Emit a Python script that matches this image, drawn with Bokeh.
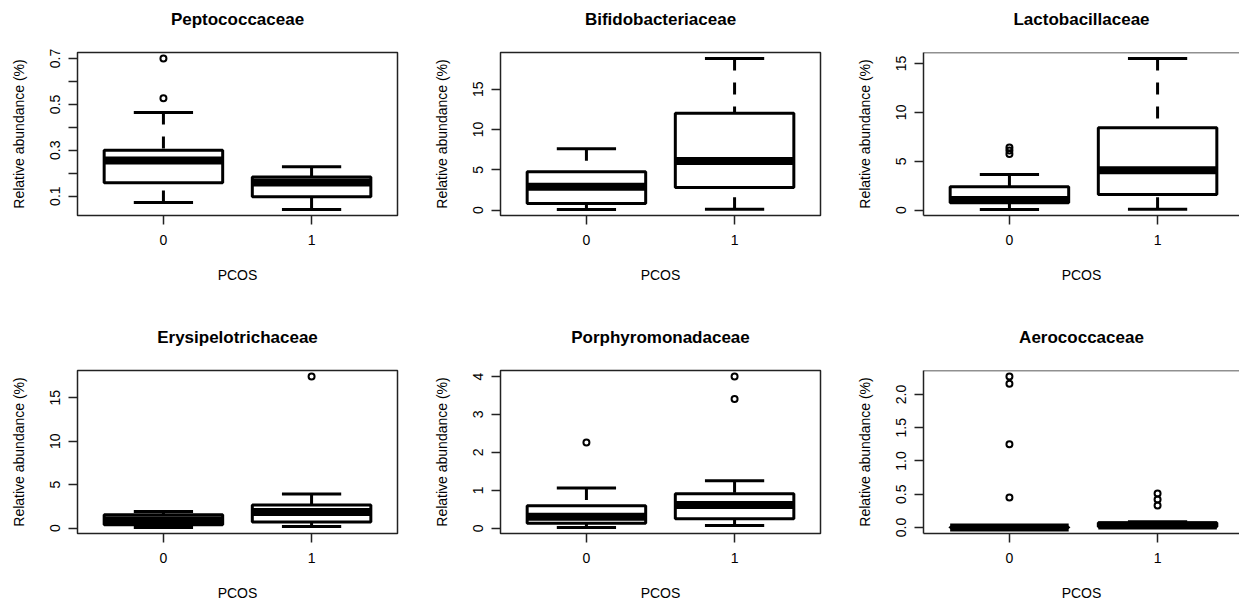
from bokeh.plotting import figure
from bokeh.layouts import column, row
from bokeh.models import Range1d, FixedTicker, Span
from bokeh.embed import file_html
from bokeh.resources import INLINE

# ---------------- data ----------------
families = ["Peptococcaceae", "Bifidobacteriaceae", "Lactobacillaceae",
            "Erysipelotrichaceae", "Porphyromonadaceae", "Aerococcaceae"]
groups = ["0", "1"]          # PCOS status, drawn at box positions 1 and 2

low_whisker = [[0.072, 0.042], [0.08, 0.10], [0.07, 0.10],
               [0.07, 0.18], [0.02, 0.07], [0.0, 0.0]]
q1 = [[0.158, 0.097], [0.83, 2.8], [0.75, 1.6],
      [0.38, 0.69], [0.13, 0.25], [0.0, 0.01]]
median = [[0.256, 0.160], [2.9, 6.1], [1.05, 4.09],
          [0.9, 1.85], [0.30, 0.61], [0.0, 0.03]]
q3 = [[0.30, 0.184], [4.75, 12.0], [2.38, 8.42],
      [1.52, 2.67], [0.59, 0.91], [0.005, 0.07]]
high_whisker = [[0.465, 0.228], [7.6, 18.8], [3.65, 15.5],
                [1.9, 3.93], [1.06, 1.25], [0.01, 0.085]]
outliers = [[[0.527, 0.70], []],
            [[], []],
            [[6.4, 6.1, 5.75], []],
            [[], [17.45]],
            [[2.26], [3.41, 4.0]],
            [[0.45, 1.25, 2.16, 2.27], [0.33, 0.42, 0.51]]]

y_ticks = [[0.1, 0.3, 0.5, 0.7], [0, 5, 10, 15], [0, 5, 10, 15],
           [0, 5, 10, 15], [0, 1, 2, 3, 4], [0.0, 0.5, 1.0, 1.5, 2.0]]
y_tick_labels = [["0.1", "0.3", "0.5", "0.7"], ["0", "5", "10", "15"],
                 ["0", "5", "10", "15"], ["0", "5", "10", "15"],
                 ["0", "1", "2", "3", "4"], ["0.0", "0.5", "1.0", "1.5", "2.0"]]
y_minor_ticks = [[0.2, 0.4, 0.6], [], [], [], [], []]

x_label = "PCOS"
y_label = "Relative abundance (%)"

# ---------------- styling ----------------
FONT = "Liberation Sans"
BOX_W = 0.8
LW = 3
MED_LW = 8
B_LEFT = 77
B_TOP = 52


def make_panel(i, width, border_right, height, border_bottom, open_right):
    pos = [1, 2]
    lows, highs = low_whisker[i], high_whisker[i]
    allv = lows + highs + [v for g in outliers[i] for v in g]
    lo, hi = min(allv), max(allv)
    pad = 0.04 * (hi - lo)
    frame_w = width - B_LEFT - border_right
    x0 = 0.42
    x1 = x0 + 2.16 * frame_w / 320.0

    p = figure(width=width, height=height, x_range=Range1d(x0, x1),
               y_range=Range1d(lo - pad, hi + pad),
               output_backend="svg", toolbar_location=None, tools="",
               min_border_left=B_LEFT, min_border_right=border_right,
               min_border_top=B_TOP, min_border_bottom=border_bottom,
               title=families[i])
    p.background_fill_color = "white"
    p.border_fill_color = "white"
    p.xgrid.visible = False
    p.ygrid.visible = False

    # title
    p.title.align = "center"
    p.title.text_font = FONT
    p.title.text_font_size = "17px"
    p.title.text_font_style = "bold"
    p.title.text_color = "black"
    p.title.standoff = 0
    p.title.padding = dict(left=0, right=0, top=0, bottom=24)

    # frame
    if open_right:
        p.outline_line_color = None
        p.add_layout(Span(location=hi + pad, dimension="width",
                          line_color="#222222", line_width=1.5))
    else:
        p.outline_line_color = "#222222"
        p.outline_line_width = 1.5
        p.outline_line_alpha = 1.0

    # x axis
    xa = p.xaxis[0]
    xa.ticker = FixedTicker(ticks=pos)
    xa.major_label_overrides = {pos[k]: groups[k] for k in range(2)}
    xa.axis_label = x_label
    xa.axis_label_text_font = FONT
    xa.axis_label_text_font_size = "14px"
    xa.axis_label_text_font_style = "normal"
    xa.axis_label_text_color = "black"
    xa.axis_label_standoff = 19
    xa.major_label_text_font = FONT
    xa.major_label_text_font_size = "14px"
    xa.major_label_text_color = "black"
    xa.major_label_standoff = 10
    xa.major_tick_out = 9
    xa.major_tick_in = 0
    xa.major_tick_line_width = 1.5
    xa.major_tick_line_color = "#222222"
    xa.minor_tick_line_color = None
    xa.axis_line_color = "#222222" if open_right else None
    xa.axis_line_width = 1.5

    # y axis
    ya = p.yaxis[0]
    ya.ticker = FixedTicker(ticks=y_ticks[i], minor_ticks=y_minor_ticks[i])
    ya.major_label_overrides = {y_ticks[i][k]: y_tick_labels[i][k]
                                for k in range(len(y_ticks[i]))}
    ya.major_label_orientation = "vertical"
    ya.axis_label = y_label
    ya.axis_label_text_font = FONT
    ya.axis_label_text_font_size = "14px"
    ya.axis_label_text_font_style = "normal"
    ya.axis_label_text_color = "black"
    ya.axis_label_standoff = 21
    ya.major_label_text_font = FONT
    ya.major_label_text_font_size = "14px"
    ya.major_label_text_color = "black"
    ya.major_label_standoff = 8
    ya.major_tick_out = 9
    ya.major_tick_in = 0
    ya.major_tick_line_width = 1.5
    ya.major_tick_line_color = "#222222"
    ya.minor_tick_out = 9
    ya.minor_tick_in = 0
    ya.minor_tick_line_width = 1.5
    ya.minor_tick_line_color = "#222222"
    ya.axis_line_color = "#222222" if open_right else None
    ya.axis_line_width = 1.5

    # whiskers (dashed, from whisker end to box)
    p.segment(x0=pos, y0=highs, x1=pos, y1=q3[i], line_color="black",
              line_width=LW, line_dash="12 12")
    p.segment(x0=pos, y0=lows, x1=pos, y1=q1[i], line_color="black",
              line_width=LW, line_dash="12 12")
    # staples
    sx0 = [x - BOX_W / 4 for x in pos]
    sx1 = [x + BOX_W / 4 for x in pos]
    p.segment(x0=sx0, y0=highs, x1=sx1, y1=highs, line_color="black", line_width=LW)
    p.segment(x0=sx0, y0=lows, x1=sx1, y1=lows, line_color="black", line_width=LW)
    # boxes
    p.vbar(x=pos, width=BOX_W, bottom=q1[i], top=q3[i], fill_color="white",
           line_color="black", line_width=LW)
    # medians
    mx0 = [x - BOX_W / 2 for x in pos]
    mx1 = [x + BOX_W / 2 for x in pos]
    p.segment(x0=mx0, y0=median[i], x1=mx1, y1=median[i], line_color="black",
              line_width=MED_LW, line_cap="butt")
    # outliers
    ox, oy = [], []
    for k in range(2):
        for v in outliers[i][k]:
            ox.append(pos[k])
            oy.append(v)
    if ox:
        p.scatter(x=ox, y=oy, marker="circle", size=6, fill_color=None,
                  line_color="black", line_width=2)
    return p


top = [make_panel(0, 423, 26, 318, 103, False),
       make_panel(1, 423, 26, 318, 103, False),
       make_panel(2, 393, 0, 318, 103, True)]
bottom = [make_panel(3, 423, 26, 288, 73, False),
          make_panel(4, 423, 26, 288, 73, False),
          make_panel(5, 393, 0, 288, 73, True)]

layout = column(row(*top), row(*bottom))

open("out.html", "w").write(file_html(layout, INLINE))
